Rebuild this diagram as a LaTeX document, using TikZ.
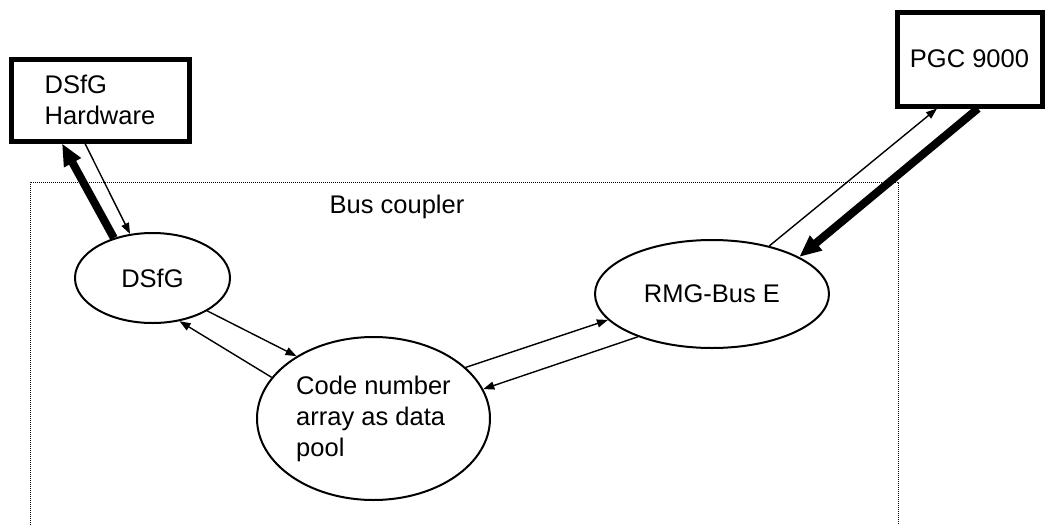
\documentclass[tikz,border=0pt]{standalone}
\usepackage{fontspec}
\setmainfont{Liberation Sans}
\usetikzlibrary{arrows.meta, shapes.geometric}

\begin{document}
\begin{tikzpicture}[x=1pt, y=-1pt,
    font=\fontsize{25.5}{31}\selectfont,
    unit/.style={draw, line width=5pt, inner sep=0pt, align=left},
    blob/.style={draw, ellipse, line width=2pt, inner sep=0pt, align=left},
    flow/.style={line width=1.4pt, -{Triangle[length=11pt,width=8pt]}},
    bulk/.style={line width=8pt, -{Triangle[length=22pt,width=18pt]}}]
  \useasboundingbox (0,0) rectangle (1045,525);
  % bus coupler frame, open at the bottom
  \draw[line width=1pt, dash pattern=on 1pt off 1pt] (30,525) -- (30,182) -- (898,182) -- (898,525);
  \node (coupler) at (397,207) {Bus coupler};

  \node[unit, minimum width=178pt, minimum height=82pt] (hw) at (100,100) {DSfG\\Hardware};
  \node[unit, minimum width=145pt, minimum height=94pt] (pgc) at (969.5,59) {PGC 9000};

  \node[blob, minimum width=155pt, minimum height=90pt] (dsfg) at (152.5,278) {DSfG};
  \node[blob, minimum width=233pt, minimum height=163pt] (pool) at (373.5,418.5) {Code number\\array as data\\pool};
  \node[blob, minimum width=234pt, minimum height=108pt] (rmg) at (712,294) {RMG-Bus E};

  \draw[bulk] (dsfg.134) -- ([xshift=-38pt]hw.south);
  \draw[flow] ([xshift=-15pt]hw.south) -- (dsfg.117);
  \draw[flow] (dsfg.-31.5) -- (pool.141);
  \draw[flow] (pool.158) -- (dsfg.-58);
  \draw[flow] (pool.29) -- (rmg.194);
  \draw[flow] (rmg.210) -- (pool.15);
  \draw[flow] (rmg.40) -- ([xshift=-32.5pt]pgc.south);
  \draw[bulk] ([xshift=8.5pt]pgc.south) -- (rmg.23);
\end{tikzpicture}
\end{document}
